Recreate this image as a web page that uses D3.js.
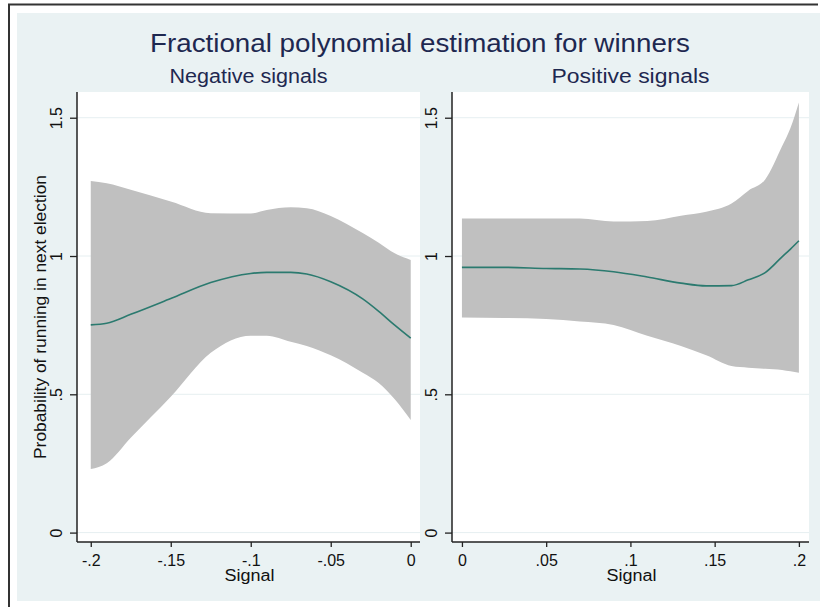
<!DOCTYPE html>
<html><head><meta charset="utf-8">
<script src="https://cdn.jsdelivr.net/npm/d3@7"></script>
<style>body{margin:0;background:#fff}svg{display:block;font-family:"Liberation Sans",Arial,sans-serif}</style>
</head><body><svg id="c" width="820" height="607"></svg>
<script>
const titleText = "Fractional polynomial estimation for winners";
const yLabel = "Probability of running in next election";
const xLabel = "Signal";
const yTicks = [0, 0.5, 1, 1.5];
const yTickLabels = ["0", ".5", "1", "1.5"];

const negTitle = "Negative signals";
const negX   = [-0.2, -0.19, -0.175, -0.15, -0.125, -0.1, -0.09, -0.075, -0.065, -0.05, -0.03, -0.02, -0.01, 0];
const negFit = [0.751, 0.757, 0.789, 0.846, 0.904, 0.937, 0.941, 0.941, 0.935, 0.907, 0.845, 0.80, 0.75, 0.703];
const negHi  = [1.271, 1.263, 1.240, 1.197, 1.155, 1.154, 1.166, 1.176, 1.173, 1.145, 1.083, 1.048, 1.010, 0.986];
const negLo  = [0.230, 0.251, 0.343, 0.491, 0.650, 0.712, 0.712, 0.690, 0.675, 0.641, 0.578, 0.541, 0.482, 0.407];
const negTicks = [-0.2, -0.15, -0.1, -0.05, 0];
const negTickLabels = ["-.2", "-.15", "-.1", "-.05", "0"];

const posTitle = "Positive signals";
const posX   = [0, 0.025, 0.05, 0.07, 0.09, 0.11, 0.13, 0.145, 0.16, 0.17, 0.18, 0.19, 0.195, 0.2];
const posFit = [0.959, 0.959, 0.955, 0.953, 0.943, 0.924, 0.902, 0.892, 0.893, 0.914, 0.940, 0.997, 1.025, 1.055];
const posHi  = [1.136, 1.136, 1.136, 1.136, 1.125, 1.127, 1.146, 1.160, 1.190, 1.236, 1.277, 1.397, 1.463, 1.555];
const posLo  = [0.778, 0.776, 0.772, 0.763, 0.751, 0.712, 0.675, 0.641, 0.602, 0.596, 0.592, 0.588, 0.583, 0.578];
const posTicks = [0, 0.05, 0.1, 0.15, 0.2];
const posTickLabels = ["0", ".05", ".1", ".15", ".2"];

const svg = d3.select("#c");
const textCol = "#1e2850";
const FONT = '"Liberation Sans",Arial,sans-serif';

// background region
svg.append("rect").attr("x", 17).attr("y", 13).attr("width", 803).attr("height", 588).attr("fill", "#eaf2f3");
svg.append("path").attr("d", "M9,607 V4.5 H818").attr("fill", "none").attr("stroke", "#333").attr("stroke-width", 2);

svg.append("text").attr("x", 420).attr("y", 52).attr("text-anchor", "middle")
  .attr("font-size", 26).attr("fill", textCol)
  .attr("textLength", 540).attr("lengthAdjust", "spacingAndGlyphs").text(titleText);

const yScale = d3.scaleLinear().domain([-0.034, 1.593]).range([542, 92]);

function panel(cfg) {
  const {x0, x1, domain, title, xs, fit, lo, hi, ticks, tickLabels, showYLabel} = cfg;
  const x = d3.scaleLinear().domain(domain).range([x0, x1]);
  const g = svg.append("g");
  g.append("rect").attr("x", x0).attr("y", 92).attr("width", x1 - x0).attr("height", 450).attr("fill", "#fff");
  // grid
  g.selectAll(".grid").data(yTicks).enter().append("line")
    .attr("x1", x0).attr("x2", x1).attr("y1", d => yScale(d)).attr("y2", d => yScale(d))
    .attr("stroke", "#e6eff1").attr("stroke-width", 1);
  const rows = xs.map((v, i) => ({x: v, fit: fit[i], lo: lo[i], hi: hi[i]}));
  g.append("path").datum(rows)
    .attr("d", d3.area().x(d => x(d.x)).y0(d => yScale(d.lo)).y1(d => yScale(d.hi)).curve(d3.curveMonotoneX))
    .attr("fill", "#c0c0c0");
  g.append("path").datum(rows)
    .attr("d", d3.line().x(d => x(d.x)).y(d => yScale(d.fit)).curve(d3.curveMonotoneX))
    .attr("fill", "none").attr("stroke", "#2b7a6f").attr("stroke-width", 1.6);
  // y axis
  const ya = d3.axisLeft(yScale).tickValues(yTicks).tickSize(7).tickFormat((d, i) => yTickLabels[i]);
  const yg = g.append("g").attr("transform", `translate(${x0},0)`).call(ya);
  yg.select(".domain").attr("d", `M0,92 V542`).attr("stroke", "#222").attr("stroke-width", 1.5);
  yg.selectAll(".tick line").attr("stroke", "#222").attr("stroke-width", 1.3);
  yg.selectAll(".tick text").attr("font-size", 16).attr("fill", "#111").attr("font-family", FONT)
    .attr("transform", "rotate(-90)").attr("x", 0).attr("y", -21).attr("dy", "0.35em")
    .attr("text-anchor", "middle");
  // x axis
  const xa = d3.axisBottom(x).tickValues(ticks).tickSize(5).tickFormat((d, i) => tickLabels[i]);
  const xg = g.append("g").attr("transform", "translate(0,542)").call(xa);
  xg.select(".domain").attr("d", `M${x0},0 H${x1}`).attr("stroke", "#222").attr("stroke-width", 1.5);
  xg.selectAll(".tick line").attr("stroke", "#222").attr("stroke-width", 1.3);
  xg.selectAll(".tick text").attr("font-size", 16).attr("fill", "#111").attr("font-family", FONT).attr("y", 13);
  g.append("text").attr("x", (x0 + x1) / 2 + 1).attr("y", 581).attr("text-anchor", "middle")
    .attr("font-size", 16).attr("fill", "#111")
    .attr("textLength", 50).attr("lengthAdjust", "spacingAndGlyphs").text(xLabel);
  g.append("text").attr("x", (x0 + x1) / 2).attr("y", 83).attr("text-anchor", "middle")
    .attr("font-size", 20).attr("fill", textCol)
    .attr("textLength", 158).attr("lengthAdjust", "spacingAndGlyphs").text(title);
  if (showYLabel) {
    g.append("text").attr("transform", `translate(45.5,317) rotate(-90)`).attr("text-anchor", "middle")
      .attr("font-size", 16).attr("fill", "#111")
      .attr("textLength", 284).attr("lengthAdjust", "spacingAndGlyphs").text(yLabel);
  }
}

panel({x0: 77, x1: 420, domain: [-0.2086, 0.0058], title: negTitle, xs: negX, fit: negFit, lo: negLo, hi: negHi,
  ticks: negTicks, tickLabels: negTickLabels, showYLabel: true});
panel({x0: 452, x1: 809, domain: [-0.0059, 0.206], title: posTitle, xs: posX, fit: posFit, lo: posLo, hi: posHi,
  ticks: posTicks, tickLabels: posTickLabels, showYLabel: false});
</script></body></html>
